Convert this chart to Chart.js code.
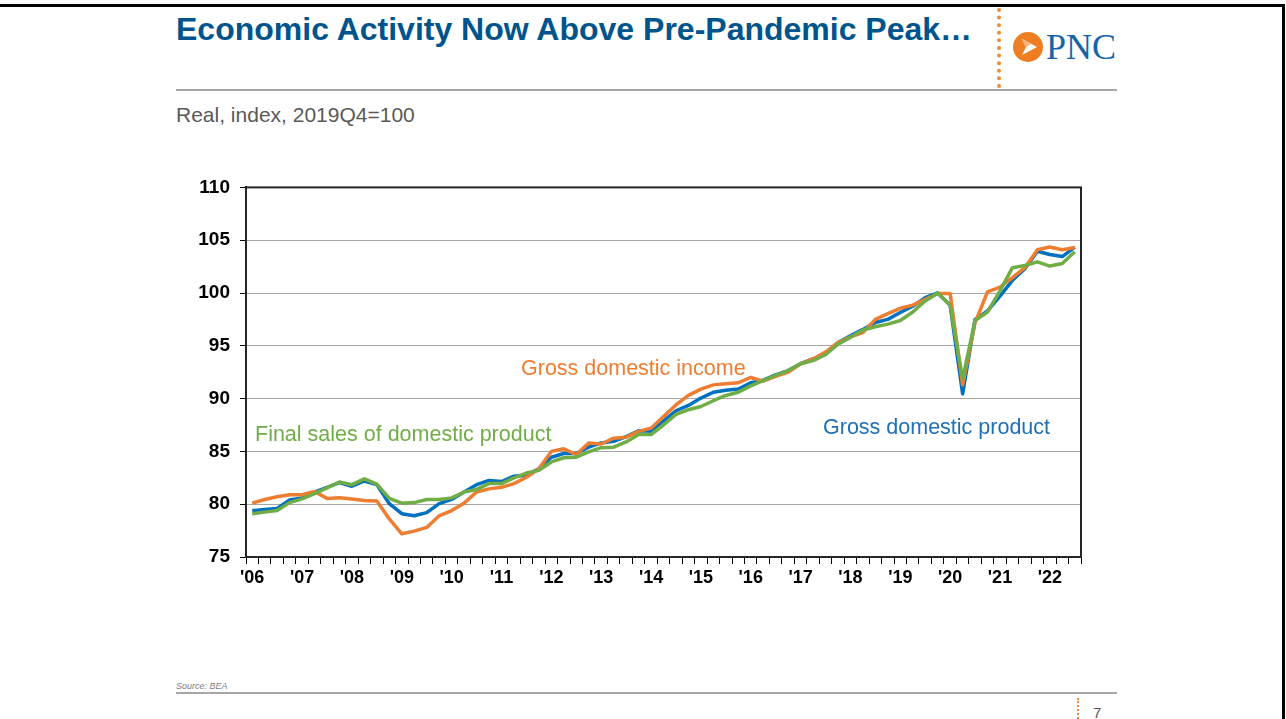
<!DOCTYPE html>
<html>
<head>
<meta charset="utf-8">
<script src="https://cdn.jsdelivr.net/npm/chart.js@4/dist/chart.umd.min.js"></script>
<style>
  body { margin: 0; width: 1286px; height: 719px; overflow: hidden; background: #fff; position: relative; font-family: Arial, "Liberation Sans", sans-serif; }
  .abs { position: absolute; white-space: nowrap; }
  #frame { position: absolute; left: -4px; top: 4px; width: 1289px; height: 730px; border: 3px solid #000; box-sizing: border-box; }
  #title { left: 176px; top: 13px; font-size: 32px; line-height: 32px; font-weight: bold; color: #00548c; }
  #sub { left: 176px; top: 104px; font-size: 21px; line-height: 21px; color: #595959; }
  .rule { position: absolute; height: 2px; background: #a6a6a6; }
  .dots { position: absolute; border-left: 4px dotted #f08a32; }
  .note { font-size: 21.5px; line-height: 22px; }
</style>
</head>
<body>
<div id="frame"></div>
<div id="title" class="abs">Economic Activity Now Above Pre-Pandemic Peak…</div>
<div class="dots" style="left:997px; top:8px; height:80px;"></div>
<svg class="abs" style="left:1012px; top:31px;" width="32" height="32" viewBox="0 0 32 32">
  <circle cx="16" cy="16" r="15" fill="#ef7d22"/>
  <path d="M10 8 L25 16 L10 24 L14 16 Z" fill="#fff"/>
  <path d="M10 8 L14 16 L19 13 Z" fill="#f6b27a"/>
</svg>
<div class="abs" style="left:1046px; top:29px; font-family:'Liberation Serif','Times New Roman',serif; font-size:36px; line-height:36px; color:#1764a8;">PNC</div>
<div class="rule" style="left:176px; top:89px; width:941px;"></div>
<div id="sub" class="abs">Real, index, 2019Q4=100</div>

<div style="position:absolute; left:150px; top:166px; width:950px; height:434px;">
  <canvas id="myChart" width="950" height="434"></canvas>
</div>

<div class="abs note" style="left:521px; top:357px; color:#ed7d31;">Gross domestic income</div>
<div class="abs note" style="left:255px; top:423px; color:#70ad47;">Final sales of domestic product</div>
<div class="abs note" style="left:823px; top:416px; color:#1f6fb4;">Gross domestic product</div>

<div class="abs" style="left:176px; top:681px; font-size:9px; line-height:10px; font-style:italic; color:#7f7f7f;">Source: BEA</div>
<div class="rule" style="left:176px; top:692px; width:941px;"></div>
<div class="dots" style="left:1077px; top:698px; height:21px; border-left-width:2px;"></div>
<div class="abs" style="left:1093px; top:705px; font-size:15px; line-height:15px; color:#595959;">7</div>

<script>
var quarters = [
  '2006Q1','2006Q2','2006Q3','2006Q4','2007Q1','2007Q2','2007Q3','2007Q4',
  '2008Q1','2008Q2','2008Q3','2008Q4','2009Q1','2009Q2','2009Q3','2009Q4',
  '2010Q1','2010Q2','2010Q3','2010Q4','2011Q1','2011Q2','2011Q3','2011Q4',
  '2012Q1','2012Q2','2012Q3','2012Q4','2013Q1','2013Q2','2013Q3','2013Q4',
  '2014Q1','2014Q2','2014Q3','2014Q4','2015Q1','2015Q2','2015Q3','2015Q4',
  '2016Q1','2016Q2','2016Q3','2016Q4','2017Q1','2017Q2','2017Q3','2017Q4',
  '2018Q1','2018Q2','2018Q3','2018Q4','2019Q1','2019Q2','2019Q3','2019Q4',
  '2020Q1','2020Q2','2020Q3','2020Q4','2021Q1','2021Q2','2021Q3','2021Q4',
  '2022Q1','2022Q2','2022Q3'
];

// year labels shown under the first quarter of each year
var yearLabels = ["'06","'07","'08","'09","'10","'11","'12","'13","'14","'15","'16","'17","'18","'19","'20","'21","'22"];

var gdp = [
  79.37, 79.5, 79.6, 80.4, 80.6, 81.15, 81.6, 82.05, 81.7, 82.2, 81.85, 80.05,
  79.1, 78.9, 79.2, 80.05, 80.45, 81.15, 81.85, 82.25, 82.15, 82.65, 82.75,
  83.35, 84.45, 84.8, 84.8, 85.4, 85.8, 85.95, 86.4, 86.95, 86.9, 87.9, 88.85,
  89.35, 90.05, 90.6, 90.8, 90.9, 91.5, 91.75, 92.25, 92.65, 93.3,
  93.75, 94.3, 95.3, 95.95, 96.55, 97.2, 97.5, 98.15, 98.75, 99.55, 100.0,
  98.85, 90.45, 97.5, 98.3, 99.7, 101.2, 102.3, 103.95, 103.65, 103.45, 104.35
];

var gdi = [
  80.1, 80.45, 80.7, 80.9, 80.9, 81.2, 80.55, 80.6, 80.5, 80.35, 80.3, 78.6,
  77.2, 77.45, 77.8, 78.9, 79.4, 80.1, 81.15, 81.45, 81.6, 81.95, 82.55,
  83.35, 85.0, 85.25, 84.7, 85.8, 85.7, 86.25, 86.35, 86.9, 87.2, 88.3, 89.4,
  90.3, 90.9, 91.3, 91.4, 91.5, 92.0, 91.65, 92.1, 92.5, 93.3,
  93.75, 94.4, 95.3, 95.85, 96.25, 97.5, 98.05, 98.55, 98.85, 99.4, 99.95,
  99.95, 91.3, 97.2, 100.1, 100.55, 101.45, 102.4, 104.1, 104.35, 104.1, 104.3
];

var finalSales = [
  79.1, 79.25, 79.4, 80.15, 80.5, 81.0, 81.55, 82.1, 81.85, 82.4, 81.9, 80.55,
  80.1, 80.15, 80.45, 80.45, 80.6, 81.15, 81.4, 81.95, 81.95, 82.5, 82.95,
  83.2, 84.0, 84.4, 84.45, 84.95, 85.35, 85.4, 85.9, 86.6, 86.6, 87.5, 88.5,
  88.95, 89.25, 89.8, 90.3, 90.6, 91.2, 91.7, 92.2, 92.65, 93.3,
  93.6, 94.15, 95.15, 95.8, 96.5, 96.8, 97.05, 97.4, 98.2, 99.25, 100.0,
  98.85, 91.85, 97.4, 98.2, 100.2, 102.4, 102.6, 102.95, 102.55, 102.8, 103.9
];

var yTicks = [75, 80, 85, 90, 95, 100, 105, 110];

// draw the box round the plot area
var plotFrame = {
  id: 'plotFrame',
  afterDraw: function(chart) {
    var a = chart.chartArea;
    var c = chart.ctx;
    c.save();
    c.strokeStyle = '#262626';
    c.lineWidth = 2;
    c.strokeRect(a.left, a.top, a.right - a.left, a.bottom - a.top);
    c.restore();
  }
};

var ctx = document.getElementById('myChart').getContext('2d');
var chart = new Chart(ctx, {
  type: 'line',
  data: {
    labels: quarters,
    datasets: [
      { label: 'Final sales of domestic product', data: finalSales, borderColor: 'rgb(112,173,71)', order: 0 },
      { label: 'Gross domestic income', data: gdi, borderColor: 'rgb(237,125,49)', order: 1 },
      { label: 'Gross domestic product', data: gdp, borderColor: 'rgb(0,112,192)', order: 2 }
    ]
  },
  options: {
    responsive: false,
    animation: false,
    elements: {
      point: { radius: 0 },
      line: { borderWidth: 3.5, tension: 0, borderJoinStyle: 'round' }
    },
    layout: { padding: { top: 0, right: 19, left: 0, bottom: 0 } },
    plugins: { legend: { display: false }, tooltip: { enabled: false } },
    scales: {
      x: {
        offset: true,
        grid: { offset: true, drawOnChartArea: false, drawTicks: true, tickLength: 7, color: '#000', lineWidth: 1 },
        border: { color: '#000', width: 2 },
        ticks: {
          autoSkip: false, maxRotation: 0, padding: 3, color: '#000',
          font: { family: 'Arial, "Liberation Sans"', size: 18, weight: 'bold' },
          callback: function(v, i) {
            var q = quarters[i];
            if (q.slice(4) !== 'Q1') return '';
            return yearLabels[parseInt(q.slice(0, 4), 10) - 2006];
          }
        },
        afterFit: function(s) { s.height = 43; }
      },
      y: {
        min: 75, max: 110,
        afterBuildTicks: function(s) { s.ticks = yTicks.map(function(v) { return { value: v }; }); },
        grid: { color: '#a6a6a6', lineWidth: 1, tickLength: 6, tickColor: '#000' },
        border: { color: '#000', width: 2 },
        ticks: {
          padding: 10, color: '#000',
          font: { family: 'Arial, "Liberation Sans"', size: 19, weight: 'bold' }
        },
        afterFit: function(s) { s.width = 96; }
      }
    }
  },
  plugins: [plotFrame]
});
</script>
</body>
</html>
